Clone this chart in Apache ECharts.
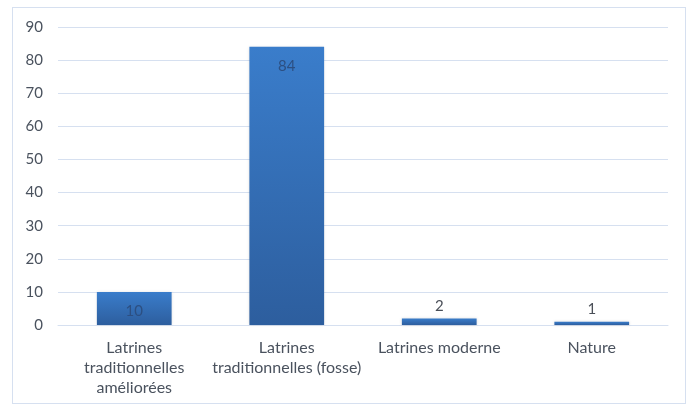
<!DOCTYPE html>
<html>
<head>
<meta charset="utf-8">
<script src="https://cdn.jsdelivr.net/npm/echarts@6/dist/echarts.min.js"></script>
<style>
  html, body { margin: 0; padding: 0; background: #fff; }
  #frame {
    position: absolute; left: 12px; top: 7px; width: 674px; height: 397px;
    border: 1px solid #d6e0f0; box-sizing: border-box;
  }
  #chart { position: absolute; left: 0; top: 0; width: 693px; height: 405px; }
</style>
</head>
<body>
<div id="frame"></div>
<div id="chart"></div>
<script>
// categories and values
const categories = [
  'Latrines\ntraditionnelles\naméliorées',
  'Latrines\ntraditionnelles (fosse)',
  'Latrines moderne',
  'Nature'
]
const values = [10, 84, 2, 1]
const yTicks = [0, 10, 20, 30, 40, 50, 60, 70, 80, 90]

const myChart = echarts.init(document.getElementById('chart'))

// grosses barres : label dedans, petites : label au-dessus
const barData = values.map(function (v) {
  const inside = v > 5
  return {
    value: v,
    label: {
      position: inside ? 'insideTop' : 'top',
      distance: inside ? 12 : 5,
      color: inside ? '#2c4f82' : '#4a4f58'
    }
  }
})

const option = {
  animation: false,
  textStyle: { fontFamily: 'Lato' },
  grid: { left: 58, right: 25, top: 27, bottom: 80 },
  xAxis: {
    type: 'category',
    data: categories,
    axisLine: { show: true, lineStyle: { color: '#d6e0f0' } },
    axisTick: { show: false },
    axisLabel: {
      interval: 0,
      color: '#4a525e',
      fontSize: 16,
      lineHeight: 20,
      margin: 13
    }
  },
  yAxis: {
    type: 'value',
    min: yTicks[0],
    max: yTicks[yTicks.length - 1],
    interval: 10,
    axisLine: { show: false },
    axisTick: { show: false },
    splitLine: { lineStyle: { color: '#d6e0f0', width: 1 } },
    axisLabel: { color: '#4a525e', fontSize: 15, margin: 15 }
  },
  series: [
    {
      type: 'bar',
      data: barData,
      barWidth: '49%',
      label: { show: true, fontSize: 15 },
      itemStyle: {
        color: new echarts.graphic.LinearGradient(0, 0, 0, 1, [
          { offset: 0, color: '#3a7dcb' },
          { offset: 1, color: '#2d5e9e' }
        ]),
        shadowBlur: 3,
        shadowColor: 'rgba(0,0,0,0.15)'
      }
    }
  ]
}
myChart.setOption(option)
</script>
</body>
</html>
